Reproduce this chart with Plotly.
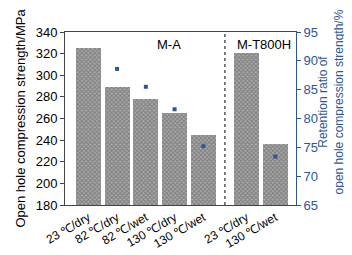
import plotly.graph_objects as go

categories = ["23 ℃/dry", "82 ℃/dry", "82 ℃/wet", "130 ℃/dry", "130 ℃/wet", "23 ℃/dry", "130 ℃/wet"]
positions = [0, 1, 2, 3, 4, 5.5, 6.5]
strength = [325, 289, 278, 265, 245, 321, 236]
retention_x = [1, 2, 3, 4, 6.5]
retention = [88.6, 85.5, 81.6, 75.2, 73.4]

BLUE = "#2b5797"
FONT = "Liberation Sans, Arial, sans-serif"

fig = go.Figure()
fig.add_trace(go.Bar(
    x=positions, y=strength, width=0.87,
    marker=dict(color="#a8a8a8", line=dict(width=0),
                pattern=dict(shape="x", fgcolor="#505050", size=3, solidity=0.5)),
    showlegend=False,
))
fig.add_trace(go.Scatter(
    x=retention_x, y=retention, yaxis="y2", mode="markers",
    marker=dict(symbol="square", size=4, color=BLUE),
    showlegend=False,
))

fig.add_shape(type="line", xref="x", yref="paper", x0=4.75, x1=4.75, y0=0, y1=1,
              line=dict(color="black", width=1, dash="3px,3px"))

fig.add_annotation(x=2.8, y=1, xref="x", yref="paper", yanchor="top", yshift=-3,
                   text="M-A", showarrow=False, font=dict(size=13, color="black", family=FONT))
fig.add_annotation(x=6.1, y=1, xref="x", yref="paper", yanchor="top", yshift=-3,
                   text="M-T800H", showarrow=False, font=dict(size=13, color="black", family=FONT))

# right axis title
fig.add_annotation(x=(323 - 56) / 232, y=(208 - 98) / 184, xref="paper", yref="paper",
                   xanchor="center", yanchor="middle", textangle=-90,
                   text="Retention ratio of<br>open hole compression strength/%",
                   showarrow=False, font=dict(size=12, color=BLUE, family=FONT))

fig.update_layout(
    width=352, height=255,
    margin=dict(l=56, r=64, t=24, b=47),
    paper_bgcolor="white", plot_bgcolor="white",
    font=dict(family=FONT, size=12, color="black"),
    bargap=0,
    xaxis=dict(range=[-0.81, 7.22], tickvals=positions, ticktext=categories,
               tickangle=-30, showgrid=False, zeroline=False,
               showline=True, linecolor="#444444", linewidth=1, mirror=True,
               ticks="", tickfont=dict(size=12)),
    yaxis=dict(range=[180, 340], dtick=20, showgrid=False, zeroline=False,
               showline=True, linecolor="#444444", linewidth=1,
               ticks="outside", ticklen=4, tickcolor="#444444",
               title=dict(text="Open hole compression strength/MPa", font=dict(size=13), standoff=7),
               tickfont=dict(size=13)),
    yaxis2=dict(range=[65, 95], dtick=5, overlaying="y", side="right",
                showgrid=False, zeroline=False,
                showline=True, linecolor=BLUE, linewidth=1,
                ticks="outside", ticklen=4, tickcolor=BLUE,
                tickfont=dict(size=13, color=BLUE)),
)

fig.write_html("out.html")
